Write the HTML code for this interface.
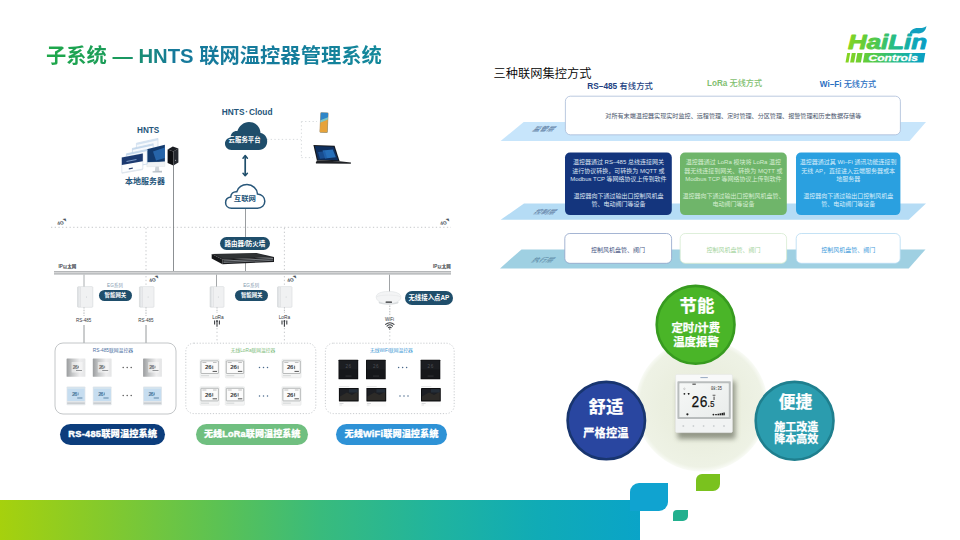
<!DOCTYPE html>
<html lang="zh-CN">
<head>
<meta charset="utf-8">
<title>子系统 — HNTS 联网温控器管理系统</title>
<style>
html,body{margin:0;padding:0;background:#fff;}
body{width:960px;height:540px;overflow:hidden;position:relative;font-family:"Liberation Sans","Noto Sans CJK SC",sans-serif;}
#s{position:absolute;left:0;top:0;width:960px;height:540px;overflow:hidden;background:#fff;}
.a{position:absolute;}
.t{position:absolute;white-space:nowrap;line-height:1;}
.c{text-align:center;}
#title{left:46px;top:39px;font-size:20.3px;line-height:34px;height:34px;font-weight:bold;letter-spacing:0px;background:linear-gradient(90deg,#1fa84a 0%,#1a9a5c 22%,#16799b 38%,#157c9c 70%,#12889a 100%);-webkit-background-clip:text;background-clip:text;color:transparent;}
.pill{position:absolute;color:#fff;font-weight:bold;text-align:center;white-space:nowrap;border-radius:99px;}
.navy{background:#1f4e6b;}
.lbl{color:#2d5b7c;font-weight:bold;}
</style>
</head>
<body>
<div id="s">
<!--BANNER-->
<div class="a" style="left:0;top:499.5px;width:640.3px;height:40.5px;background:linear-gradient(90deg,#a6d10d 0%,#82c92e 17%,#5cc253 34%,#39bb7c 50%,#20b49e 68%,#10abb6 84%,#0aa4c8 100%);"></div>
<div class="a" style="left:630px;top:483px;width:38px;height:28px;background:#10a3d0;border-radius:9px 0 9px 0;"></div>
<div class="a" style="left:696px;top:474px;width:24px;height:17px;background:#7ac21e;border-radius:6px 0 7px 0;"></div>
<div class="a" style="left:672.5px;top:509.5px;width:15.5px;height:11.5px;background:#22b08e;border-radius:4px 0 5px 0;"></div>
<!--TITLE-->
<div id="title" class="t">子系统 — HNTS 联网温控器管理系统</div>
<!--LOGO-->
<svg class="a" style="left:840px;top:20px;" width="100" height="48" viewBox="0 0 100 48"><defs><linearGradient id="lg0" gradientUnits="userSpaceOnUse" x1="8" x2="89" y1="0" y2="0"><stop offset="0" stop-color="#84d422"/><stop offset="0.3" stop-color="#56ca44"/><stop offset="0.6" stop-color="#22ba8c"/><stop offset="0.85" stop-color="#0ca5bc"/><stop offset="1" stop-color="#0a9cc6"/></linearGradient></defs>
<text x="8" y="29.2" font-family="Liberation Sans, sans-serif" font-weight="bold" font-style="italic" font-size="20.6" fill="url(#lg0)" stroke="url(#lg0)" stroke-width="0.9" stroke-linejoin="round" textLength="79" lengthAdjust="spacingAndGlyphs">HaiLin</text>
<path d="M69.6 14.6 C69.8 10 74 7.6 79 8 C82.2 8.2 84.6 7.6 86.4 6 C86 10.4 83 13.6 78 13.4 C74.6 13.3 72 13.4 69.6 14.6 Z" fill="#11a0c0"/>
<path d="M7.2 33 L10.2 33 L8.5 42.5 L5.5 42.5 Z M11.8 33 L15.8 33 L14.1 42.5 L10.1 42.5 Z M17.3 33 L22.6 33 L20.9 42.5 L15.6 42.5 Z M24.6 33 L85.3 33 L83.6 42.5 L22.9 42.5 Z" fill="url(#lg0)"/>
<text x="28.5" y="41" font-family="Liberation Sans, sans-serif" font-weight="bold" font-style="italic" font-size="9.2" fill="#fff" stroke="#fff" stroke-width="0.3" textLength="49.5" lengthAdjust="spacingAndGlyphs">Controls</text></svg>
<!--LEFT-->
<svg class="a" style="left:0;top:90px;" width="480" height="370" viewBox="0 90 480 370">
<defs>
<linearGradient id="gw" x1="0" x2="1" y1="0" y2="0"><stop offset="0" stop-color="#d9dcdf"/><stop offset="0.25" stop-color="#f4f5f6"/><stop offset="1" stop-color="#e3e5e8"/></linearGradient>
<linearGradient id="silver" x1="0" x2="1" y1="0" y2="0"><stop offset="0" stop-color="#9a9c9e"/><stop offset="0.3" stop-color="#c4c6c7"/><stop offset="0.7" stop-color="#eeeeef"/><stop offset="1" stop-color="#e4e5e6"/></linearGradient>
<linearGradient id="rt" x1="0" x2="0" y1="0" y2="1"><stop offset="0" stop-color="#3a3d42"/><stop offset="1" stop-color="#111316"/></linearGradient>
<g id="th1"><rect x="0" y="0" width="18.8" height="18.4" rx="0.6" fill="url(#silver)"/><rect x="5" y="3.6" width="11" height="10.6" rx="0.5" fill="#fafafa" opacity="0.55"/><text x="6.2" y="10.2" font-family="Liberation Sans, sans-serif" font-size="5.2" font-weight="bold" fill="#6a6c6e" textLength="5">26</text><rect x="11.6" y="7.4" width="0.7" height="2.4" fill="#777"/><rect x="9.4" y="11.6" width="6" height="0.9" fill="#8a8c8e"/></g>
<g id="th2"><rect x="0" y="0" width="18.8" height="18.8" rx="0.8" fill="#e3e7ea"/><rect x="0.7" y="0.8" width="17.4" height="13.8" rx="0.5" fill="#c6ddf0"/><rect x="0.7" y="0.8" width="17.4" height="1.6" fill="#dbe6ee" opacity="0.8"/><text x="5.4" y="9.2" font-family="Liberation Sans, sans-serif" font-size="5.6" font-weight="bold" fill="#4a789c" textLength="5.4">26</text><rect x="11.2" y="6" width="0.7" height="2.8" fill="#5a86a8"/><rect x="10.6" y="11" width="5.2" height="1" fill="#5f88a8"/><rect x="0.6" y="16" width="17.6" height="1.3" fill="#c4c8cb"/></g>
<g id="th3"><rect x="0" y="0" width="19.2" height="18.6" rx="0.8" fill="#f3f4f4" stroke="#dcdfdf" stroke-width="0.4"/><rect x="1" y="1.6" width="17.4" height="12.6" rx="0.5" fill="#fbfbfb" stroke="#8c9091" stroke-width="0.6"/><text x="5" y="10.2" font-family="Liberation Sans, sans-serif" font-size="6.2" font-weight="bold" fill="#3a3c3e" textLength="6.6">26</text><rect x="12.4" y="6.4" width="0.8" height="3.4" fill="#4a4c4e"/><rect x="12.6" y="11.6" width="4.4" height="1" fill="#555"/><rect x="2.4" y="3" width="4" height="0.6" fill="#999"/><rect x="13" y="3" width="3.6" height="0.6" fill="#999"/><rect x="1" y="16" width="8" height="0.9" fill="#cfd2d2"/></g>
<g id="th4"><rect x="0" y="0" width="19.7" height="19.6" rx="0.5" fill="#0c0d0f"/><rect x="0.7" y="0.7" width="18.3" height="18.2" rx="0.4" fill="#16171a"/><rect x="0.7" y="0.7" width="18.3" height="9" fill="#202226" opacity="0.6"/><text x="7" y="8" font-family="Liberation Sans, sans-serif" font-size="4.6" fill="#4d4f54" textLength="5.6">26</text><rect x="7" y="16" width="6" height="0.7" fill="#3c3d40"/></g>
<g id="th5"><rect x="0" y="-2.2" width="19.8" height="20.6" rx="0.5" fill="#fbfbfb"/><rect x="0.3" y="-2.1" width="10" height="0.5" fill="#d5d7d8"/><rect x="0" y="0" width="19.8" height="13.4" rx="0.4" fill="#0e0f11"/><rect x="1" y="1" width="17.8" height="11.2" fill="#1d1f24"/><path d="M1 8.4 L8 4.4 L13 7 L18.8 3.6 V12.2 H1 Z" fill="#3d382c" opacity="0.5"/><rect x="10" y="1" width="8.8" height="3.4" fill="#2a3442" opacity="0.7"/><rect x="0.6" y="15.2" width="4" height="0.6" fill="#bfc2c4"/><rect x="0.6" y="16.6" width="2.4" height="0.6" fill="#d0d3d4"/></g>
</defs>
<g stroke="#bfc2c5" stroke-width="0.9" stroke-dasharray="1.3 2.4" fill="none">
<path d="M51 227.3 H451"/><path d="M146 228 V286"/><path d="M284.4 228 V286"/>
<g stroke="#d3d6d9"><path d="M267 139.4 H301"/><path d="M301.4 121.5 V157.6"/><path d="M301.4 121.5 H317"/><path d="M301.4 157.6 H313"/></g>
<path d="M217 328 V343"/><path d="M284.4 328 V343"/><path d="M389.8 331.5 V343"/>
</g>
<g stroke="#7c8084" stroke-width="0.8" fill="none">
<path d="M173.5 165 V272" stroke-width="0.8" stroke="#6f7377"/><path d="M245.5 209 V238" stroke-width="0.7" stroke="#6f7377"/><path d="M245.5 263 V271.5" stroke-width="0.7" stroke="#6f7377"/>
<path d="M84 274.5 V287" stroke="#96999c"/><path d="M216.5 274.5 V287" stroke-width="0.7" stroke="#7d8184"/><path d="M389.5 274.5 V292" stroke-width="0.7" stroke="#777b7f"/>
<path d="M84 325 V343"/><path d="M146 325 V343"/>
</g>
<g stroke="#9a9da0" stroke-width="0.7" stroke-dasharray="1.5 1.2" fill="none"><path d="M84 307 V316"/><path d="M146 307 V316"/><path d="M217 307 V313"/><path d="M284.4 307 V313"/><path d="M389.8 305.5 V316.5"/></g>
<rect x="54" y="271" width="397" height="3.6" fill="#b4b6b8"/><rect x="54" y="272" width="397" height="1.3" fill="#d4d5d6"/>
<path d="M231.5 150 C227.5 150 225 147 225 143.8 C225 140.6 227.3 138 230.6 137.6 C230.4 133.6 233.6 130.6 237.4 131 C239 126 243.5 122 249 122 C255.5 122 260.2 127 260.5 133 C264.5 133.6 267.2 137 267.2 141.2 C267.2 146 263.8 150 259 150 Z" fill="#1f4e6b"/>
<g stroke="#1f4e6b" fill="none" stroke-linecap="round" stroke-linejoin="round"><path d="M245.2 156.5 V175" stroke-width="1.7"/><path d="M243 158.2 L245.2 155.6 L247.4 158.2 M243 173.2 L245.2 175.8 L247.4 173.2" stroke-width="1.5"/></g>
<path d="M231.6 208.2 C227.8 208.2 225.6 205.6 225.6 202.7 C225.6 199.8 227.8 197.5 230.8 197.1 C230.6 193.8 233.4 191.3 236.8 191.7 C238.3 187.5 242.2 184.6 247 184.6 C252.8 184.6 257.1 188.8 257.5 194 C261.7 194.4 264.8 197.3 264.8 201.3 C264.8 205.3 261.7 208.2 257.5 208.2 Z" fill="#fff" stroke="#28577a" stroke-width="1.5"/>
<g><path d="M211.7 254 L256.5 252.9 L274 257 L222.5 259.6 Z" fill="#26282b"/><path d="M211.7 254 L222.5 259.6 L222.5 264.2 L211.7 258.6 Z" fill="#141517"/><path d="M222.5 259.6 L274 257 L274 262 L222.5 264.2 Z" fill="#1b1c1f"/><path d="M223.5 260.5 L273 258.1 L273 259.2 L223.5 261.6 Z" fill="#7d8186"/><path d="M223.5 262.1 L273 259.8 L273 260.8 L223.5 263.1 Z" fill="#6c7075"/><path d="M216 254.6 L256 253.6 L268 256.6 L224 258.4 Z" fill="#34373b" opacity="0.7"/></g>
<rect x="77.5" y="286.7" width="15.3" height="20.5" rx="0.8" fill="url(#gw)" stroke="#cdd0d3" stroke-width="0.5"/><rect x="80.7" y="287.1" width="11.700000000000001" height="19.7" fill="#f0f1f2"/><rect x="80.5" y="287" width="0.5" height="20" fill="#d6d8db"/><circle cx="86.55000000000001" cy="297" r="0.5" fill="#c3c6c9"/>
<rect x="139.4" y="286.7" width="14.6" height="20.5" rx="0.8" fill="url(#gw)" stroke="#cdd0d3" stroke-width="0.5"/><rect x="142.6" y="287.1" width="11.0" height="19.7" fill="#f0f1f2"/><rect x="142.4" y="287" width="0.5" height="20" fill="#d6d8db"/><circle cx="148.10000000000002" cy="297" r="0.5" fill="#c3c6c9"/>
<rect x="210" y="286.7" width="14" height="20.5" rx="0.8" fill="url(#gw)" stroke="#cdd0d3" stroke-width="0.5"/><rect x="213.2" y="287.1" width="10.4" height="19.7" fill="#f0f1f2"/><rect x="213" y="287" width="0.5" height="20" fill="#d6d8db"/><circle cx="218.4" cy="297" r="0.5" fill="#c3c6c9"/>
<rect x="277.5" y="286.7" width="14.5" height="20.5" rx="0.8" fill="url(#gw)" stroke="#cdd0d3" stroke-width="0.5"/><rect x="280.7" y="287.1" width="10.9" height="19.7" fill="#f0f1f2"/><rect x="280.5" y="287" width="0.5" height="20" fill="#d6d8db"/><circle cx="286.15" cy="297" r="0.5" fill="#c3c6c9"/>
<ellipse cx="388.6" cy="302.4" rx="10" ry="2.4" fill="#d9dcde"/><path d="M376.2 297 C376.2 293.5 381 291.5 388.5 291.5 C396 291.5 400.9 293.5 400.9 297 C400.9 300.4 397 303.6 388.5 303.6 C380 303.6 376.2 300.4 376.2 297 Z" fill="#f3f4f5" stroke="#d9dcde" stroke-width="0.5"/><path d="M377 296.6 C380 294.6 397 294.6 400 296.6" fill="none" stroke="#e4e6e8" stroke-width="0.6"/><rect x="385.6" y="301.6" width="6.4" height="1.1" rx="0.3" fill="#2b2d30"/>
<g stroke="#3c3f43" stroke-width="1.1" fill="none"><path d="M217 321 V326.8"/><path d="M214.6 320.6 V324.4"/><path d="M219.4 320.6 V324.4"/></g><circle cx="217" cy="321" r="0.9" fill="#3c3f43"/>
<g stroke="#3c3f43" stroke-width="1.1" fill="none"><path d="M284.4 321 V326.8"/><path d="M282.0 320.6 V324.4"/><path d="M286.79999999999995 320.6 V324.4"/></g><circle cx="284.4" cy="321" r="0.9" fill="#3c3f43"/>
<g stroke="#3c3f43" stroke-width="1.05" fill="none" stroke-linecap="round"><path d="M385.6 324.4 C388 322.2 391.6 322.2 394 324.4"/><path d="M387 326.1 C388.6 324.6 391 324.6 392.6 326.1"/><path d="M388.4 327.7 C389.2 327 390.4 327 391.2 327.7"/></g><circle cx="389.8" cy="329" r="0.7" fill="#3c3f43"/>
<rect x="55" y="343" width="121" height="71" rx="8" fill="#fff" stroke="#b4b7ba" stroke-width="0.8"/>
<rect x="185.8" y="343.2" width="130" height="70.4" rx="8" fill="none" stroke="#c3c6c9" stroke-width="0.9" stroke-dasharray="1.2 1.7"/>
<rect x="325.4" y="343.2" width="128.8" height="70.4" rx="8" fill="none" stroke="#c3c6c9" stroke-width="0.9" stroke-dasharray="1.2 1.7"/>
<use href="#th1" x="66.6" y="358.4"/><use href="#th2" x="66.6" y="386.5"/>
<use href="#th1" x="92.8" y="358.4"/><use href="#th2" x="92.8" y="386.5"/>
<use href="#th1" x="143.1" y="358.4"/><use href="#th2" x="143.1" y="386.5"/>
<use href="#th3" x="200" y="359.3"/><use href="#th3" x="200" y="386.7"/>
<use href="#th3" x="225.3" y="359.3"/><use href="#th3" x="225.3" y="386.7"/>
<use href="#th3" x="281.9" y="359.3"/><use href="#th3" x="281.9" y="386.7"/>
<use href="#th4" x="338.5" y="359.7"/><use href="#th5" x="338.9" y="388.1"/>
<use href="#th4" x="366" y="359.7"/><use href="#th5" x="366.4" y="388.1"/>
<use href="#th4" x="420.6" y="359.7"/><use href="#th5" x="421.0" y="388.1"/>
<circle cx="123.2" cy="367.4" r="0.75" fill="#555"/><circle cx="127.2" cy="367.4" r="0.75" fill="#555"/><circle cx="131.2" cy="367.4" r="0.75" fill="#555"/><circle cx="123.2" cy="395.5" r="0.75" fill="#555"/><circle cx="127.2" cy="395.5" r="0.75" fill="#555"/><circle cx="131.2" cy="395.5" r="0.75" fill="#555"/><circle cx="259.5" cy="367.5" r="0.75" fill="#4a6a8c"/><circle cx="263.5" cy="367.5" r="0.75" fill="#4a6a8c"/><circle cx="267.5" cy="367.5" r="0.75" fill="#4a6a8c"/><circle cx="259.5" cy="396" r="0.75" fill="#4a6a8c"/><circle cx="263.5" cy="396" r="0.75" fill="#4a6a8c"/><circle cx="267.5" cy="396" r="0.75" fill="#4a6a8c"/><circle cx="398.6" cy="367.5" r="0.75" fill="#4a6a8c"/><circle cx="402.6" cy="367.5" r="0.75" fill="#4a6a8c"/><circle cx="406.6" cy="367.5" r="0.75" fill="#4a6a8c"/><circle cx="400" cy="396" r="0.75" fill="#4a6a8c"/><circle cx="404" cy="396" r="0.75" fill="#4a6a8c"/><circle cx="408" cy="396" r="0.75" fill="#4a6a8c"/>
<g stroke-linejoin="round">
<path d="M136.4 143.2 L158 138.4 L158 153 L136.4 157.4 Z" fill="#f6f9fc" stroke="#b9cde3" stroke-width="0.5"/>
<path d="M136.4 143.2 L158 138.4 L158 140.2 L136.4 145 Z" fill="#d3e2f1"/>
<path d="M132.4 148.4 L153.2 143.8 L153.2 158 L132.4 162.2 Z" fill="#f8fafd" stroke="#a9c2dd" stroke-width="0.5"/>
<path d="M132.4 148.4 L153.2 143.8 L153.2 145.5 L132.4 150.1 Z" fill="#c4d8ec"/>
<path d="M146.8 149.2 L164.9 144.7 L164.9 161.7 L146.8 162.6 Z" fill="#123a6e"/>
<path d="M153 151.5 L164.9 147.5 L164.9 158 L156 160.6 Z" fill="#2d73bd" opacity="0.75"/>
<path d="M146.8 162.6 L164.9 161.7 L164.9 166.4 L146.8 166.8 Z" fill="#f1f3f5" stroke="#d4d9de" stroke-width="0.3"/>
<path d="M155.4 166.8 L158.8 166.6 L159.4 171 L154.8 171.2 Z" fill="#d0d5da"/><path d="M152.6 171.2 L162 170.8 L162 172.4 L152.6 172.6 Z" fill="#b9c0c7"/>
<path d="M126.4 153.8 L147.2 149.4 L147.2 164 L126.4 168 Z" fill="#fafcfe" stroke="#a9c2dd" stroke-width="0.5"/>
<path d="M126.4 153.8 L147.2 149.4 L147.2 151 L126.4 155.5 Z" fill="#c4d8ec"/>
<path d="M121.8 157.6 L142.8 153.4 L142.8 169 L121.8 172.8 Z" fill="#fdfeff" stroke="#c3d2e2" stroke-width="0.5"/>
<path d="M121.8 157.6 L142.8 153.4 L142.8 161.2 L121.8 165 Z" fill="#1c3a70"/>
<path d="M126.5 161 L136.5 159.1 L136.5 160.1 L126.5 162 Z" fill="#7e9cc8"/>
<path d="M128.8 168.2 L132.8 167.5 L132.8 168.7 L128.8 169.4 Z" fill="#28406f"/>
<path d="M121.8 172.8 L142.8 169 L142.8 170 L121.8 173.8 Z" fill="#dfe5ec"/>
<path d="M167.6 149.4 L173.4 151.4 L173.4 165.6 L167.6 163 Z" fill="#0d0e11"/>
<path d="M173.4 151.4 L178.4 148.4 L178.4 162.4 L173.4 165.6 Z" fill="#25282e"/>
<path d="M167.6 149.4 L172.8 146.4 L178.4 148.4 L173.4 151.4 Z" fill="#1a1c21"/>
<circle cx="175.6" cy="160.2" r="0.5" fill="#cfd3d8"/>
</g>
<g transform="rotate(2.5 324 122)"><rect x="319.9" y="112.3" width="8.3" height="20.6" rx="1.1" fill="#c9a77a"/><rect x="320.3" y="112.7" width="7.5" height="19.8" rx="0.9" fill="#2f86c8"/><path d="M320.3 122.4 L327.8 119 V131.6 C327.8 132.1 327.4 132.5 326.9 132.5 H321.2 C320.7 132.5 320.3 132.1 320.3 131.6 Z" fill="#e7a33a"/><path d="M320.3 120.5 L327.8 117.2 V119.4 L320.3 122.8 Z" fill="#8fcfc0" opacity="0.85"/></g>
<g><path d="M313.4 144.9 L334.6 145.7 L339.6 161.2 L316.9 160.6 Z" fill="#16181c"/><path d="M314.8 146 L333.8 146.7 L338.2 160.2 L317.9 159.7 Z" fill="#0f2f5e"/><path d="M322.5 150.5 L332.8 149.5 L335.8 157.2 L325 158.4 Z" fill="#2f86d8" opacity="0.75"/><path d="M318 152 L325 151.2 L327 158 L320 158.8 Z" fill="#1d5aa5" opacity="0.7"/><path d="M316.9 160.6 L339.6 161.2 L351 162.6 L350.8 163.8 L316 163.6 L315.8 162.4 Z" fill="#1f2125"/></g>
</svg>
<div class="t" style="left:197.2px;top:108.2px;font-size:8.3px;line-height:8.3px;color:#24557a;font-weight:bold;width:100px;text-align:center;">HNTS<span style="margin:0 0.9px">·</span>Cloud</div>
<div class="t" style="left:98.2px;top:126.6px;font-size:8.2px;line-height:8.2px;color:#24557a;font-weight:bold;width:100px;text-align:center;">HNTS</div>
<div class="t" style="left:95px;top:178.4px;font-size:8px;line-height:8px;color:#24557a;font-weight:bold;width:100px;text-align:center;">本地服务器</div>
<div class="t" style="left:194.6px;top:137px;font-size:6.4px;line-height:6.4px;color:#fff;font-weight:bold;width:100px;text-align:center;">云服务平台</div>
<div class="t" style="left:194.9px;top:194.7px;font-size:7.4px;line-height:7.4px;color:#24557a;font-weight:bold;width:100px;text-align:center;">互联网</div>
<div class="pill" style="left:220px;top:237.2px;width:49.6px;height:13.2px;line-height:13.2px;font-size:6.5px;background:#1f4e6b;">路由器/防火墙</div>
<div class="t" style="left:58.4px;top:264.9px;font-size:4.5px;line-height:4.5px;color:#3d434a;font-weight:bold;">IP以太网</div>
<div class="t" style="left:432.9px;top:264.9px;font-size:4.5px;line-height:4.5px;color:#3d434a;font-weight:bold;">IP以太网</div>
<div class="t" style="left:56.7px;top:219.4px;font-size:5px;line-height:5px;color:#4c5560;font-weight:bold;transform:rotate(-10deg);">4G<span style="font-size:3.2px;vertical-align:2.4px;margin-left:-0.6px">&#x25E5;</span></div>
<div class="t" style="left:440px;top:219.2px;font-size:5px;line-height:5px;color:#4c5560;font-weight:bold;transform:rotate(-10deg);">4G<span style="font-size:3.2px;vertical-align:2.4px;margin-left:-0.6px">&#x25E5;</span></div>
<div class="t" style="left:149px;top:276px;font-size:5px;line-height:5px;color:#4c5560;font-weight:bold;transform:rotate(-10deg);">4G<span style="font-size:3.2px;vertical-align:2.4px;margin-left:-0.6px">&#x25E5;</span></div>
<div class="t" style="left:287.4px;top:276px;font-size:5px;line-height:5px;color:#4c5560;font-weight:bold;transform:rotate(-10deg);">4G<span style="font-size:3.2px;vertical-align:2.4px;margin-left:-0.6px">&#x25E5;</span></div>
<div class="t" style="left:95px;top:284.4px;font-size:4.6px;line-height:4.6px;color:#8299ae;width:40px;text-align:center;">EG系列</div>
<div class="t" style="left:231.2px;top:284.4px;font-size:4.6px;line-height:4.6px;color:#8299ae;width:40px;text-align:center;">EG系列</div>
<div class="pill" style="left:98.6px;top:289.5px;width:33.6px;height:11.5px;line-height:11.5px;font-size:5.4px;background:#1f4e6b;">智能网关</div>
<div class="pill" style="left:235.2px;top:289.5px;width:33px;height:11.3px;line-height:11.3px;font-size:5.4px;background:#1f4e6b;">智能网关</div>
<div class="t" style="left:63.6px;top:319.2px;font-size:4.5px;line-height:4.5px;color:#33373c;width:40px;text-align:center;">RS-485</div>
<div class="t" style="left:126px;top:319.2px;font-size:4.5px;line-height:4.5px;color:#33373c;width:40px;text-align:center;">RS-485</div>
<div class="t" style="left:198px;top:315.8px;font-size:4.8px;line-height:4.8px;color:#33373c;width:40px;text-align:center;">LoRa</div>
<div class="t" style="left:264.4px;top:315.8px;font-size:4.8px;line-height:4.8px;color:#33373c;width:40px;text-align:center;">LoRa</div>
<div class="t" style="left:369.6px;top:318.2px;font-size:4.5px;line-height:4.5px;color:#33373c;width:40px;text-align:center;">WiFi</div>
<div class="pill" style="left:404.8px;top:291.3px;width:48.2px;height:13.6px;line-height:13.6px;font-size:6.4px;background:#1f4e6b;">无线接入点AP</div>
<div class="t" style="left:62.9px;top:348.5px;font-size:4.8px;line-height:4.8px;color:#4a6f9f;width:100px;text-align:center;">RS-485联网温控器</div>
<div class="t" style="left:203px;top:348.5px;font-size:4.75px;line-height:4.75px;color:#7dbb7a;width:100px;text-align:center;">无线LoRa联网温控器</div>
<div class="t" style="left:341.4px;top:348.5px;font-size:4.75px;line-height:4.75px;color:#3f9bd6;width:100px;text-align:center;">无线WiFi联网温控器</div>
<div class="pill" style="left:60.2px;top:423.5px;width:105px;height:21.2px;line-height:21.2px;font-size:9.3px;background:#0c3d7c;font-weight:900;-webkit-text-stroke:0.2px #fff;"><span style="-webkit-text-stroke:0.45px #fff;letter-spacing:0.25px">RS-485</span>联网温控系统</div>
<div class="pill" style="left:196.4px;top:423.5px;width:111.6px;height:21.2px;line-height:21.2px;font-size:9.1px;background:#70bf80;font-weight:900;-webkit-text-stroke:0.2px #fff;">无线<span style="-webkit-text-stroke:0.45px #fff;letter-spacing:0.25px">LoRa</span>联网温控系统</div>
<div class="pill" style="left:336.2px;top:423.5px;width:110.6px;height:21.2px;line-height:21.2px;font-size:9.2px;background:#2e92d6;font-weight:900;-webkit-text-stroke:0.2px #fff;">无线<span style="-webkit-text-stroke:0.45px #fff;letter-spacing:0.25px">WiFi</span>联网温控系统</div>
<!--RIGHT-TOP-->
<svg class="a" style="left:480px;top:90px;" width="470" height="190" viewBox="480 90 470 190">
<path d="M523.7 122 L926 122 L909.5 141 L500.6 141 Z" fill="#c7e5fb"/>
<path d="M524 203.5 L926 203.5 L908.7 219.8 L500.7 219.8 Z" fill="#b5dcf5"/>
<path d="M521.5 249.4 L925.5 249.4 L908.7 268.4 L500 268.4 Z" fill="#9fd0e2"/>
<rect x="565.4" y="96.2" width="335" height="38.6" rx="5" fill="#fff" stroke="#a9bbd8" stroke-width="0.8"/>
<rect x="565" y="152.5" width="106.8" height="62.6" rx="5" fill="#14357d"/>
<rect x="680" y="152.5" width="106.8" height="62.6" rx="5" fill="#6fb56a"/>
<rect x="796" y="152.5" width="104.4" height="62.6" rx="5" fill="#2aa0e0"/>
<rect x="564.8" y="233.5" width="106.8" height="29.8" rx="5" fill="#fff" stroke="#8ea2c8" stroke-width="0.8"/>
<rect x="680.2" y="233.5" width="106.4" height="29.8" rx="5" fill="#fff" stroke="#d5ebd0" stroke-width="0.8"/>
<rect x="796.2" y="233.5" width="104" height="29.8" rx="5" fill="#fff" stroke="#b5daf3" stroke-width="0.8"/>
</svg>
<div class="t" style="left:493.6px;top:67.5px;font-size:12.2px;line-height:12.2px;color:#000;font-weight:350;letter-spacing:0.05px;">三种联网集控方式</div>
<div class="t" style="left:570px;top:82.1px;font-size:8.3px;line-height:8.3px;color:#223f82;width:100px;text-align:center;font-weight:500;"><b>RS–485</b> 有线方式</div>
<div class="t" style="left:684.5px;top:80.1px;font-size:8.15px;line-height:8.15px;color:#7fc06f;width:100px;text-align:center;font-weight:500;"><b>LoRa</b> 无线方式</div>
<div class="t" style="left:798px;top:81.1px;font-size:8.15px;line-height:8.15px;color:#2c70c2;width:100px;text-align:center;font-weight:500;"><b>Wi–Fi</b> 无线方式</div>
<div class="t" style="left:565.8px;top:112.8px;font-size:6.1px;line-height:6.1px;color:#4a566c;width:335px;text-align:center;">对所有末端温控器实现实时监控、远程管理、定时管理、分区管理、报警管理和历史数据存储等</div>
<div class="t" style="left:534.2px;top:125px;font-size:7px;line-height:7px;color:#6c8bae;transform:skewX(-44deg) scaleY(0.86);font-weight:bold;">监管层</div>
<div class="t" style="left:535px;top:207.8px;font-size:7px;line-height:7px;color:#6c8bae;transform:skewX(-44deg) scaleY(0.86);font-weight:bold;">控制层</div>
<div class="t" style="left:532.5px;top:255.8px;font-size:7px;line-height:7px;color:#6a98b2;transform:skewX(-44deg) scaleY(0.86);font-weight:bold;">执行层</div>
<div class="a" style="left:565px;top:158.2px;width:106.8px;text-align:center;font-size:6px;line-height:8.4px;color:#dde4f1;white-space:nowrap;">温控器通过 RS–485 总线连接网关<br>进行协议转换，可转换为 MQTT 或<br>Modbus TCP 等网络协议上传到软件<br>&nbsp;<br>温控器向下通过输出口控制风机盘<br>管、电动阀门等设备<br></div>
<div class="a" style="left:680px;top:158.2px;width:106.8px;text-align:center;font-size:6px;line-height:8.4px;color:#d6edd2;white-space:nowrap;">温控器通过 LoRa 模块将 LoRa 温控<br>器无线连接到网关、转换为 MQTT 或<br>Modbus TCP 等网络协议上传到软件<br>&nbsp;<br>温控器向下通过输出口控制风机盘管、<br>电动阀门等设备<br></div>
<div class="a" style="left:796px;top:158.2px;width:104.4px;text-align:center;font-size:6px;line-height:8.4px;color:#d9eefb;white-space:nowrap;">温控器通过其 Wi–Fi 通讯功能连接到<br>无线 AP，直接进入云端服务器或本<br>地服务器<br>&nbsp;<br>温控器向下通过输出口控制风机盘<br>管、电动阀门等设备<br></div>
<div class="t" style="left:564.6px;top:246.5px;font-size:6px;line-height:6px;color:#44537f;width:106.8px;text-align:center;">控制风机盘管、阀门</div>
<div class="t" style="left:680px;top:246.5px;font-size:6px;line-height:6px;color:#a5d49e;width:106.8px;text-align:center;">控制风机盘管、阀门</div>
<div class="t" style="left:796px;top:246.5px;font-size:6px;line-height:6px;color:#3e9bdb;width:104.4px;text-align:center;">控制风机盘管、阀门</div>
<!--RIGHT-BOTTOM-->
<svg class="a" style="left:560px;top:280px;" width="290" height="200" viewBox="560 280 290 200">
<defs>
<radialGradient id="pale" cx="0.5" cy="0.5" r="0.5"><stop offset="0" stop-color="#e8ecdc"/><stop offset="0.6" stop-color="#ebefe0"/><stop offset="0.93" stop-color="#eef2e5"/><stop offset="1" stop-color="#f9fbf6"/></radialGradient>
<filter id="sh" x="-20%" y="-20%" width="140%" height="150%"><feGaussianBlur stdDeviation="2.8"/></filter>
<linearGradient id="lcd" x1="0" x2="1" y1="0" y2="1"><stop offset="0" stop-color="#f6f8f7"/><stop offset="1" stop-color="#e9eceb"/></linearGradient>
</defs>
<circle cx="701.5" cy="405.3" r="66.2" fill="url(#pale)"/>
<circle cx="695.6" cy="324.8" r="38.9" fill="#4ab528" stroke="#379b1f" stroke-width="2.6"/>
<circle cx="606.3" cy="420.6" r="38.7" fill="#2946a0" stroke="#18356f" stroke-width="2.6"/>
<circle cx="794.6" cy="420.8" r="38.9" fill="#2b9cae" stroke="#1f7f8e" stroke-width="2.6"/>
<rect x="677.5" y="381" width="58" height="58" rx="2" fill="#5a5f50" opacity="0.6" filter="url(#sh)"/>
<rect x="675.6" y="374.4" width="56.8" height="58.2" rx="1.4" fill="#f8f9f9" stroke="#e3e5e5" stroke-width="0.5"/>
<rect x="675.9" y="419.4" width="56.2" height="12.9" rx="1" fill="#f1f3f3"/>
<rect x="677.4" y="381.2" width="53.4" height="37.8" rx="0.8" fill="#b9bdbd"/>
<rect x="679.4" y="383.2" width="49.4" height="33.8" rx="0.6" fill="url(#lcd)"/>
<rect x="700.4" y="377" width="7.4" height="1.1" fill="#9fb0c6"/>
<text x="691.2" y="407" font-family="Liberation Mono, monospace" font-size="17.2" fill="#111" stroke="#111" stroke-width="0.25" textLength="16.4" lengthAdjust="spacingAndGlyphs">26</text>
<text x="710" y="407" font-family="Liberation Mono, monospace" font-size="8.4" fill="#111" stroke="#111" stroke-width="0.2" textLength="4.6" lengthAdjust="spacingAndGlyphs">5</text>
<rect x="708.2" y="405.6" width="1.1" height="1.3" fill="#111"/>
<text x="711" y="390.2" font-family="Liberation Mono, monospace" font-size="5.6" fill="#1a1a1a" textLength="11" lengthAdjust="spacingAndGlyphs">08:35</text>
<rect x="713.6" y="396.6" width="0.9" height="3.4" fill="#333"/><rect x="712.6" y="394.8" width="2.8" height="0.8" fill="#333"/>
<g fill="#1e1e1e"><rect x="692.4" y="383.7" width="3.4" height="0.9"/><circle cx="684.4" cy="393.8" r="0.9"/><path d="M687.6 393 L689.6 393 L689.2 394.8 L688.2 394.8 Z"/><circle cx="687.4" cy="414.3" r="1.1"/><circle cx="713.4" cy="414.6" r="0.9"/><rect x="715" y="414.2" width="2.2" height="1"/><rect x="717.6" y="413.7" width="1.6" height="1.6"/><rect x="719.6" y="413.3" width="1.6" height="2"/><rect x="721.6" y="412.9" width="1.6" height="2.4"/><rect x="723.4" y="412.5" width="1.4" height="2.8"/></g>
<circle cx="684.4" cy="388.8" r="0.8" fill="none" stroke="#999" stroke-width="0.4"/>
<g fill="#cdd1d3"><circle cx="683.3" cy="426" r="1"/><circle cx="693.4" cy="426" r="0.9"/><circle cx="703.6" cy="426" r="0.9"/><circle cx="713.8" cy="426" r="0.9"/><circle cx="724" cy="426" r="1"/></g>
</svg>
<div class="t" style="left:646.9px;top:298.4px;font-size:17.4px;line-height:17.4px;color:#fff;-webkit-text-stroke:0.25px #fff;font-weight:bold;width:100px;text-align:center;">节能</div>
<div class="t" style="left:645.8px;top:323.3px;font-size:11.4px;line-height:11.4px;color:#fff;-webkit-text-stroke:0.25px #fff;font-weight:bold;width:100px;text-align:center;">定时/计费</div>
<div class="t" style="left:646px;top:336.6px;font-size:11.4px;line-height:11.4px;color:#fff;-webkit-text-stroke:0.25px #fff;font-weight:bold;width:100px;text-align:center;">温度报警</div>
<div class="t" style="left:556px;top:398.6px;font-size:17.5px;line-height:17.5px;color:#fff;-webkit-text-stroke:0.25px #fff;font-weight:bold;width:100px;text-align:center;">舒适</div>
<div class="t" style="left:555.9px;top:428.1px;font-size:11.3px;line-height:11.3px;color:#fff;-webkit-text-stroke:0.25px #fff;font-weight:bold;width:100px;text-align:center;">严格控温</div>
<div class="t" style="left:745.4px;top:394.8px;font-size:16.7px;line-height:16.7px;color:#fff;-webkit-text-stroke:0.25px #fff;font-weight:bold;width:100px;text-align:center;">便捷</div>
<div class="t" style="left:746.2px;top:421.6px;font-size:11px;line-height:11px;color:#fff;-webkit-text-stroke:0.25px #fff;font-weight:bold;width:100px;text-align:center;">施工改造</div>
<div class="t" style="left:746.2px;top:434.4px;font-size:11px;line-height:11px;color:#fff;-webkit-text-stroke:0.25px #fff;font-weight:bold;width:100px;text-align:center;">降本高效</div>
</div>
</body>
</html>
